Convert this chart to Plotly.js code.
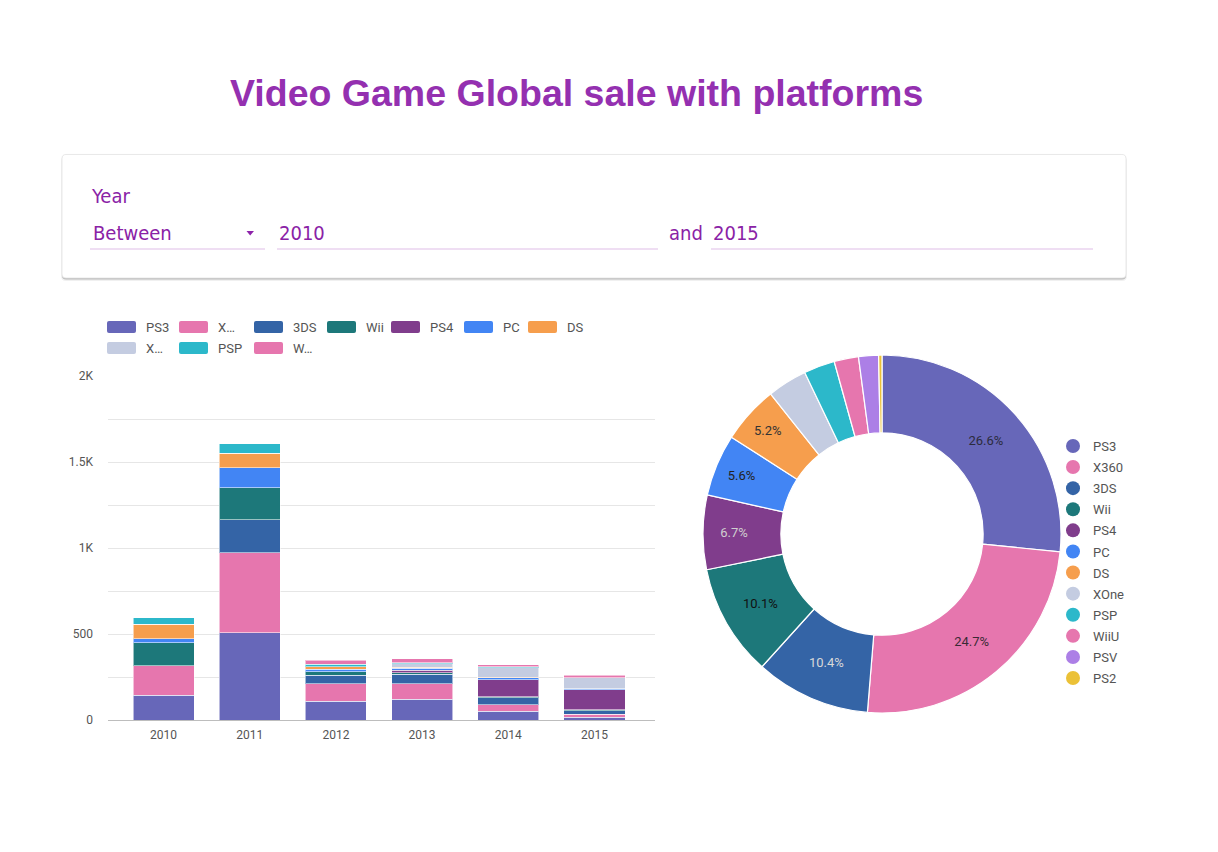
<!DOCTYPE html>
<html><head><meta charset="utf-8">
<script src="https://cdn.plot.ly/plotly-3.0.1.min.js"></script>
<style>html,body{margin:0;padding:0;background:#fff}#chart{width:1218px;height:852px}</style>
</head><body><div id="chart"></div>
<script>
// ---------------- DATA ----------------
const years = ['2010','2011','2012','2013','2014','2015'];
const barPlatforms = ['PS3','X360','3DS','Wii','PS4','PC','DS','XOne','PSP','WiiU'];
const barLegendLabels = ['PS3','X…','3DS','Wii','PS4','PC','DS','X…','PSP','W…'];
const salesPS3  = [145, 508, 110, 120, 52, 17];
const salesX360 = [170, 465, 101, 91, 37, 16];
const sales3DS  = [0, 190, 49, 55, 40, 20];
const salesWii  = [134, 188, 20, 8, 6, 8];
const salesPS4  = [0, 0, 0, 16, 99, 115];
const salesPC   = [22, 116, 16, 12, 11, 6];
const salesDS   = [87, 84, 15, 4, 3, 0];
const salesXOne = [0, 0, 0, 20, 56, 64];
const salesPSP  = [37, 54, 14, 8, 6, 1];
const salesWiiU = [0, 0, 22, 22, 12, 14];
const yTickVals = [0, 500, 1000, 1500, 2000];
const yTickText = ['0', '500', '1K', '1.5K', '2K'];
const piePlatforms = ['PS3','X360','3DS','Wii','PS4','PC','DS','XOne','PSP','WiiU','PSV','PS2'];
const pieShare = [26.6, 24.7, 10.4, 10.1, 6.7, 5.6, 5.2, 3.6, 2.8, 2.2, 1.8, 0.3];
const titleText = 'Video Game Global sale with platforms';
const filterLabel = 'Year', filterOp = 'Between', filterFrom = '2010', filterJoin = 'and', filterTo = '2015';

// ---------------- STYLE ----------------
const W = 1218, H = 852;
const px = x => x / W, py = y => 1 - y / H;
const colorMap = {PS3:'#6767b9', X360:'#e676ae', '3DS':'#3464a6', Wii:'#1d787a', PS4:'#803d8c',
  PC:'#4285f4', DS:'#f69e4d', XOne:'#c4cce1', PSP:'#2cb8ca', WiiU:'#e676ae', PSV:'#ac7fe6', PS2:'#ebc137'};
const barSeries = [salesPS3, salesX360, sales3DS, salesWii, salesPS4, salesPC, salesDS, salesXOne, salesPSP, salesWiiU];
const legendRowOf = [1,1,1,1,1,1,1,3,3,3];
const legendEntryW = [27,30,28,19,28,19,20,27,30,20];
const pieTextColors = ['#2b2b3d','#3a2a35','#d9d9d9','#111111','#d0d0d0','#222222','#333333','#333','#333','#333','#333','#333'];
const purple = '#8e24aa';

const data = [];
barPlatforms.forEach((p, i) => {
  data.push({
    type: 'bar', x: years, y: barSeries[i], name: barLegendLabels[i],
    marker: {color: colorMap[p], line: {color: 'rgba(255,255,255,0.55)', width: 1}},
    legend: legendRowOf[i] === 1 ? 'legend' : 'legend3',
    legendwidth: legendEntryW[i],
    hoverinfo: 'skip'
  });
});
data.push({
  type: 'pie', labels: piePlatforms, values: pieShare, sort: false,
  direction: 'clockwise', rotation: 0, hole: 0.565,
  domain: {x: [px(703), px(1061)], y: [py(713), py(355)]},
  marker: {colors: piePlatforms.map(p => colorMap[p]), line: {color: '#ffffff', width: 1.2}},
  textposition: 'inside', insidetextorientation: 'horizontal',
  texttemplate: pieShare.map(s => s >= 5 ? '%{percent:.1%}' : ''),
  insidetextfont: {family: 'Roboto, Arial, sans-serif', size: 13, color: pieTextColors},
  showlegend: false, hoverinfo: 'skip', automargin: false
});
piePlatforms.forEach((p, i) => {
  data.push({
    type: 'scatter', mode: 'markers', x: [null], y: [null], name: p,
    legend: 'legend2', legendgroup: 'g' + i,
    marker: {color: colorMap[p], size: 14, symbol: 'circle'},
    hoverinfo: 'skip', showlegend: true
  });
});

function rr(x0, y0, x1, y1, r) {
  const X = v => px(v).toFixed(6), Y = v => py(v).toFixed(6);
  return `M${X(x0+r)},${Y(y0)} L${X(x1-r)},${Y(y0)} Q${X(x1)},${Y(y0)} ${X(x1)},${Y(y0+r)} ` +
         `L${X(x1)},${Y(y1-r)} Q${X(x1)},${Y(y1)} ${X(x1-r)},${Y(y1)} L${X(x0+r)},${Y(y1)} ` +
         `Q${X(x0)},${Y(y1)} ${X(x0)},${Y(y1-r)} L${X(x0)},${Y(y0+r)} Q${X(x0)},${Y(y0)} ${X(x0+r)},${Y(y0)} Z`;
}
const shapes = [
  {type:'path', xref:'paper', yref:'paper', path: rr(61,156,1127,281,5), fillcolor:'rgba(0,0,0,0.06)', line:{width:0}},
  {type:'path', xref:'paper', yref:'paper', path: rr(62,155,1126,279.5,4), fillcolor:'rgba(0,0,0,0.22)', line:{width:0}},
  {type:'path', xref:'paper', yref:'paper', path: rr(62,154.5,1126,278,4), fillcolor:'#ffffff', line:{color:'#e3e3e3', width:0.8}},
  {type:'line', xref:'paper', yref:'paper', x0:px(90), x1:px(265), y0:py(249), y1:py(249), line:{color:'#ead3ef', width:1.5}},
  {type:'line', xref:'paper', yref:'paper', x0:px(277), x1:px(658), y0:py(249), y1:py(249), line:{color:'#ead3ef', width:1.5}},
  {type:'line', xref:'paper', yref:'paper', x0:px(711), x1:px(1093), y0:py(249), y1:py(249), line:{color:'#ead3ef', width:1.5}},
  {type:'path', xref:'paper', yref:'paper',
   path:`M${px(246.5)},${py(231)} L${px(254)},${py(231)} L${px(250.2)},${py(235.5)} Z`, fillcolor:purple, line:{width:0}}
];
const filterFont = {family:'"DejaVu Sans Condensed", "Liberation Sans Narrow", sans-serif', size:20, color:'#8a22a6'};
const ann = (text, x, y, font, xanchor) => ({text, x:px(x), y:py(y), xref:'paper', yref:'paper',
  xanchor: xanchor || 'left', yanchor:'middle', showarrow:false, font, borderpad:0});
const annotations = [
  ann('<b>' + titleText + '</b>', 576.5, 93, {family:'"Liberation Sans", Arial, sans-serif', size:37.5, color:'#9430b0'}, 'center'),
  ann(filterLabel, 90, 196, filterFont),
  ann(filterOp, 92, 233, filterFont),
  ann(filterFrom, 278, 233, filterFont),
  ann(filterJoin, 668, 233, filterFont),
  ann(filterTo, 712, 233, filterFont)
];
const legFont = {family:'Roboto, Arial, sans-serif', size:13, color:'#555555'};
const layout = {
  width: W, height: H, margin: {l:0, r:0, t:0, b:0, pad:0},
  paper_bgcolor: '#ffffff', plot_bgcolor: 'rgba(0,0,0,0)',
  barmode: 'stack', bargap: 0.292, hovermode: false, showlegend: true,
  font: {family:'Roboto, Arial, sans-serif', size:12, color:'#555555'},
  xaxis: {type:'category', domain:[px(108), px(655)], range:[-0.644, 5.702], anchor:'y',
    showgrid:false, zeroline:false, showline:true, linecolor:'#bdbdbd', linewidth:1, ticks:'',
    tickfont:{size:12, color:'#555555'}, ticklabelstandoff:4, fixedrange:true},
  yaxis: {domain:[py(720), py(376)], range:[0, 2000], anchor:'x',
    tickmode:'array', tickvals:yTickVals, ticktext:yTickText,
    showgrid:true, gridcolor:'#e6e6e6', gridwidth:1,
    minor:{tickmode:'linear', tick0:0, dtick:250, showgrid:true, gridcolor:'#e6e6e6', gridwidth:1, ticks:''},
    zeroline:false, showline:false, ticks:'', ticklabelstandoff:14,
    tickfont:{size:12, color:'#555555'}, fixedrange:true},
  legend: {orientation:'h', traceorder:'normal', x:px(106), xanchor:'left', y:py(327), yanchor:'middle', font:legFont,
    bgcolor:'rgba(0,0,0,0)', borderwidth:0},
  legend3: {orientation:'h', traceorder:'normal', x:px(106), xanchor:'left', y:py(348), yanchor:'middle', font:legFont,
    bgcolor:'rgba(0,0,0,0)', borderwidth:0},
  legend2: {orientation:'v', x:px(1053), xanchor:'left', y:py(431), yanchor:'top', font:legFont,
    traceorder:'grouped', tracegroupgap:1.2, bgcolor:'rgba(0,0,0,0)', borderwidth:0},
  shapes, annotations
};
const swatchPath = 'M-17,-6H8Q10,-6 10,-4V4Q10,6 8,6H-17Q-19,6 -19,4V-4Q-19,-6 -17,-6Z';
function tweakLegends() {
  const gd = document.getElementById('chart');
  ['g.legend', 'g.legend3'].forEach(sel => {
    gd.querySelectorAll(sel).forEach(g => {
      g.querySelectorAll('.legendpoints path').forEach(p => {
        p.setAttribute('d', swatchPath);
        p.style.strokeWidth = '0px';
      });
    });
  });
}
Plotly.newPlot('chart', data, layout, {displayModeBar:false, staticPlot:true}).then(gd => {
  tweakLegends();
  requestAnimationFrame(tweakLegends);
  setTimeout(tweakLegends, 50);
  setTimeout(tweakLegends, 300);
  gd.on && gd.on('plotly_afterplot', tweakLegends);
});
</script>
</body></html>
